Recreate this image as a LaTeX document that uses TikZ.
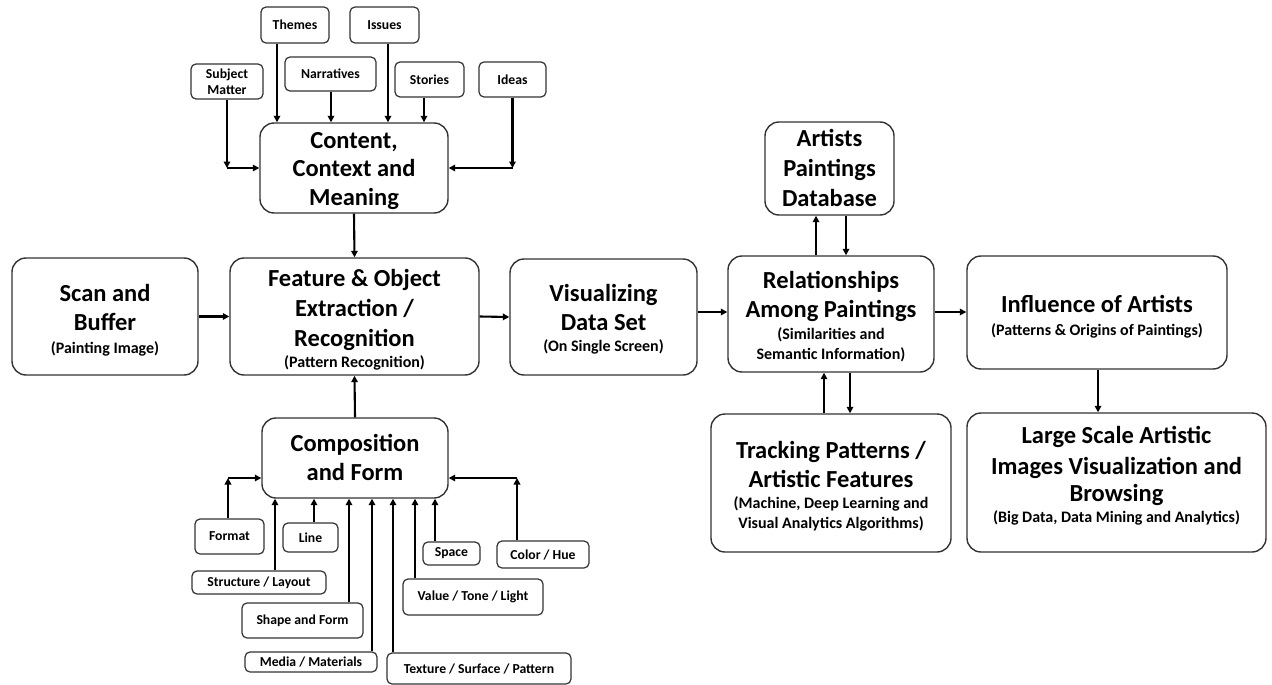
\documentclass[tikz,border=0pt]{standalone}
\usepackage{fontspec}
\setmainfont{Carlito}
\usetikzlibrary{arrows.meta,calc}
\begin{document}
\begin{tikzpicture}[x=1pt,y=-1pt,
  bigbox/.style={draw=black!80, line width=1.4pt, rounded corners=14pt, fill=white, inner sep=0pt},
  ttl/.style={anchor=base, inner sep=0pt, font=\fontsize{24.5}{29.5}\selectfont\bfseries},
  sub/.style={anchor=base, inner sep=0pt, font=\fontsize{16}{20}\selectfont\bfseries},
  smallbox/.style={draw=black!80, line width=1.2pt, rounded corners=5pt, fill=white, align=center, inner sep=0pt,
    font=\fontsize{13.7}{16.5}\selectfont\bfseries},
  arr/.style={line width=2.1pt, -{Triangle[length=6.5pt,width=6.5pt]}}]
\useasboundingbox (0,0) rectangle (1272,685);
% main boxes
\node[bigbox, minimum width=186pt, minimum height=117pt] (scan) at (105,316.5) {};
\node[ttl] (scan1) at (105,301.5) {Scan and};
\node[ttl] (scan2) at (105,330.7) {Buffer};
\node[sub] (scan3) at (105,353) {(Painting Image)};
\node[bigbox, minimum width=249pt, minimum height=117pt] (feat) at (354.5,316.5) {};
\node[ttl] (feat1) at (354.5,286.7) {Feature \& Object};
\node[ttl] (feat2) at (354.5,316) {Extraction /};
\node[ttl] (feat3) at (354.5,346) {Recognition};
\node[sub] (feat4) at (354.5,367) {(Pattern Recognition)};
\node[bigbox, minimum width=187pt, minimum height=116pt] (vis) at (603.5,317) {};
\node[ttl] (vis1) at (603.5,301) {Visualizing};
\node[ttl] (vis2) at (603.5,330.7) {Data Set};
\node[sub] (vis3) at (603.5,351) {(On Single Screen)};
\node[bigbox, minimum width=206pt, minimum height=116pt] (rel) at (831,314) {};
\node[ttl] (rel1) at (831,288.3) {Relationships};
\node[ttl] (rel2) at (831,317.3) {Among Paintings};
\node[sub] (rel3) at (831,339) {(Similarities and};
\node[sub] (rel4) at (831,359) {Semantic Information)};
\node[bigbox, minimum width=260pt, minimum height=113pt] (infl) at (1097,312.5) {};
\node[ttl] (infl1) at (1097,312.7) {Influence of Artists};
\node[sub] (infl2) at (1097,335.7) {(Patterns \& Origins of Paintings)};
\node[bigbox, minimum width=129pt, minimum height=93pt] (artdb) at (829.5,168.5) {};
\node[ttl] (art1) at (829.5,146.7) {Artists};
\node[ttl] (art2) at (829.5,176.7) {Paintings};
\node[ttl] (art3) at (829.5,206.7) {Database};
\node[bigbox, minimum width=240pt, minimum height=138pt] (track) at (831,483) {};
\node[ttl] (tr1) at (831,458.3) {Tracking Patterns /};
\node[ttl] (tr2) at (831,487.3) {Artistic Features};
\node[sub] (tr3) at (831,508.7) {(Machine, Deep Learning and};
\node[sub] (tr4) at (831,528.7) {Visual Analytics Algorithms)};
\node[bigbox, minimum width=299pt, minimum height=139pt] (large) at (1116.5,482.5) {};
\node[ttl] (lg1) at (1116.5,443.3) {Large Scale Artistic};
\node[ttl] (lg2) at (1116.5,474.3) {Images Visualization and};
\node[ttl] (lg3) at (1116.5,501.7) {Browsing};
\node[sub] (lg4) at (1116.5,522.7) {(Big Data, Data Mining and Analytics)};
\node[bigbox, minimum width=188pt, minimum height=90pt] (content) at (354,168) {};
\node[ttl] (co1) at (354,148) {Content,};
\node[ttl] (co2) at (354,176.7) {Context and};
\node[ttl] (co3) at (354,205) {Meaning};
\node[bigbox, minimum width=186pt, minimum height=80pt] (comp) at (355,458) {};
\node[ttl] (cp1) at (355,451.7) {Composition};
\node[ttl] (cp2) at (355,480) {and Form};
% top small boxes
\node[smallbox, minimum width=72pt, minimum height=35pt] (subject) at (227,81.5) {Subject\\Matter};
\node[smallbox, minimum width=68pt, minimum height=36pt] (themes) at (295,25) {Themes};
\node[smallbox, minimum width=91pt, minimum height=34pt] (narr) at (330.5,74) {Narratives};
\node[smallbox, minimum width=69pt, minimum height=36pt] (issues) at (384.5,25) {Issues};
\node[smallbox, minimum width=69pt, minimum height=35pt] (stories) at (429.5,79.5) {Stories};
\node[smallbox, minimum width=67pt, minimum height=35pt] (ideas) at (512.5,79.5) {Ideas};
% bottom small boxes
\node[smallbox, minimum width=69pt, minimum height=35pt] (format) at (229.5,536.5) {Format};
\node[smallbox, minimum width=55pt, minimum height=29pt] (line) at (310.5,537.5) {Line};
\node[smallbox, minimum width=134pt, minimum height=23pt] (struct) at (259,582.5) {Structure / Layout};
\node[smallbox, minimum width=121pt, minimum height=35pt] (shape) at (302.5,620.5) {Shape and Form};
\node[smallbox, minimum width=132pt, minimum height=20pt] (media) at (311,662) {Media / Materials};
\node[smallbox, minimum width=184pt, minimum height=31pt] (texture) at (479,668.5) {Texture / Surface / Pattern};
\node[smallbox, minimum width=140pt, minimum height=36pt] (value) at (473,597) {Value / Tone / Light};
\node[smallbox, minimum width=57pt, minimum height=23pt] (space) at (451.5,553.5) {Space};
\node[smallbox, minimum width=92pt, minimum height=27pt] (color) at (543,554.5) {Color / Hue};
% x positions of connectors
\coordinate (xTh) at (277,0);
\coordinate (xNa) at (331,0);
\coordinate (xIs) at (388,0);
\coordinate (xSt) at (424,0);
\coordinate (xFo) at (228,0);
\coordinate (xLi) at (314,0);
\coordinate (xSr) at (275,0);
\coordinate (xSh) at (349,0);
\coordinate (xMe) at (372,0);
\coordinate (xTe) at (393,0);
\coordinate (xVa) at (415,0);
\coordinate (xSp) at (435,0);
\coordinate (xCo) at (517,0);
\coordinate (xAu) at (816,0);
\coordinate (xAd) at (846,0);
\coordinate (xTu) at (824,0);
\coordinate (xTd) at (850,0);
\coordinate (xIL) at (1098,0);
\coordinate (yTop) at (0,168);
\coordinate (yBot) at (0,478);
\coordinate (yRow) at (0,312);
% top connectors
\coordinate (cSub) at (subject.south |- yTop);
\draw[arr] (subject.south) -- (cSub);
\draw[arr] (cSub) -- (content.west |- yTop);
\draw[arr] (themes.south -| xTh) -- (content.north -| xTh);
\draw[arr] (narr.south -| xNa) -- (content.north -| xNa);
\draw[arr] (issues.south -| xIs) -- (content.north -| xIs);
\draw[arr] (stories.south -| xSt) -- (content.north -| xSt);
\coordinate (cIde) at (ideas.south |- yTop);
\draw[arr] (ideas.south) -- (cIde);
\draw[arr] (cIde) -- (content.east |- yTop);
\draw[arr] (content.south) -- (feat.north);
\draw[arr] (comp.north) -- (feat.south);
% main row
\draw[arr] (scan.east) -- (feat.west);
\draw[arr] (feat.east) -- (vis.west);
\draw[arr] (vis.east |- yRow) -- (rel.west |- yRow);
\draw[arr] (rel.east |- yRow) -- (infl.west |- yRow);
\draw[arr] (rel.north -| xAu) -- (artdb.south -| xAu);
\draw[arr] (artdb.south -| xAd) -- (rel.north -| xAd);
\draw[arr] (track.north -| xTu) -- (rel.south -| xTu);
\draw[arr] (rel.south -| xTd) -- (track.north -| xTd);
\draw[arr] (infl.south -| xIL) -- (large.north -| xIL);
% bottom connectors
\coordinate (cFo) at (xFo |- yBot);
\draw[arr] (format.north -| xFo) -- (cFo);
\draw[arr] (cFo) -- (comp.west |- yBot);
\draw[arr] (line.north -| xLi) -- (comp.south -| xLi);
\draw[arr] (struct.north -| xSr) -- (comp.south -| xSr);
\draw[arr] (shape.north -| xSh) -- (comp.south -| xSh);
\draw[arr] (media.north -| xMe) -- (comp.south -| xMe);
\draw[arr] (texture.north -| xTe) -- (comp.south -| xTe);
\draw[arr] (value.north -| xVa) -- (comp.south -| xVa);
\draw[arr] (space.north -| xSp) -- (comp.south -| xSp);
\coordinate (cCo) at (xCo |- yBot);
\draw[arr] (color.north -| xCo) -- (cCo);
\draw[arr] (cCo) -- (comp.east |- yBot);
\end{tikzpicture}
\end{document}
